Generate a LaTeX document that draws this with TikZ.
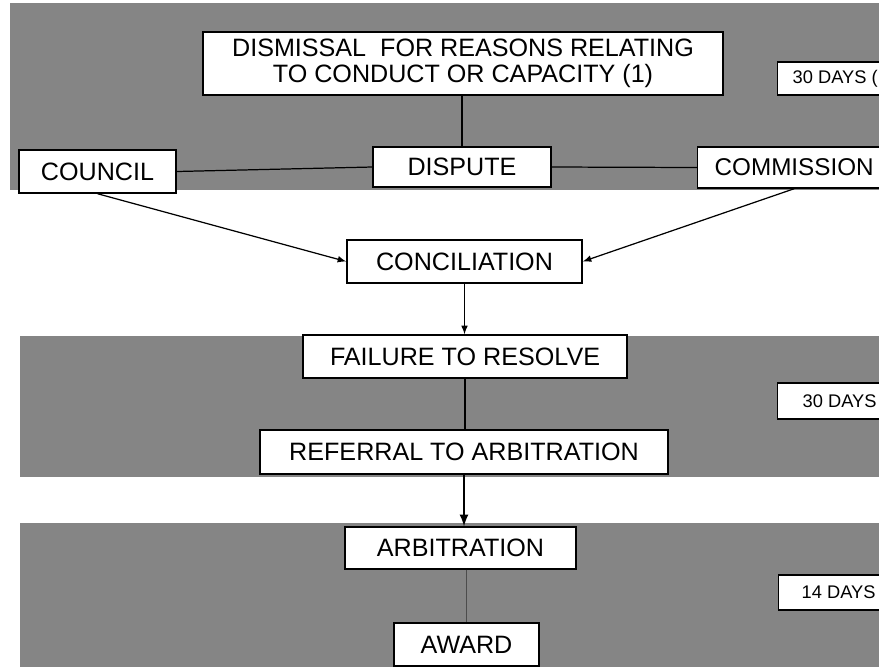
\documentclass[tikz,border=0pt]{standalone}
\usepackage{fontspec}
\setmainfont{Liberation Sans}
\usepackage{xcolor}
\usepackage{tikz}
\usetikzlibrary{calc}
\definecolor{band}{gray}{0.52}
\tikzset{every edge/.style={draw, line width=0.7pt}}
\tikzset{>=latex}
\tikzset{box/.style={draw, fill=white, line width=0.8pt, inner sep=0pt, font=\fontsize{14.3}{14.6}\selectfont}}
\tikzset{daybox/.style={draw, fill=white, line width=0.8pt, anchor=west, inner ysep=0pt, font=\fontsize{10.4}{12}\selectfont}}

\begin{document}
\begin{tikzpicture}[x=0.2mm, y=-0.2mm]     % 1 unit = 1 px
    \useasboundingbox (0,0) rectangle (879,667);
    \clip (0,0) rectangle (879,667);

    % grey bands
    \fill[band] (10,3) rectangle (879,190);
    \fill[band] (20,336) rectangle (879,477);
    \fill[band] (20,523) rectangle (879,667);

    \node[box, minimum width=104mm, minimum height=12.6mm, align=center] at (463, 63.5) (dismissal) {DISMISSAL\ \ FOR REASONS RELATING\\TO CONDUCT OR CAPACITY (1)};
    \node[daybox, inner xsep=3mm, minimum height=6.6mm] at (777, 78.5) (days1) {30 DAYS (};
    \node[box, minimum width=31.4mm, minimum height=8.6mm] at (97.5, 171.5) (council) {COUNCIL};
    \node[box, minimum width=35.6mm, minimum height=8mm] at (462, 167) (dispute) {DISPUTE};
    \node[box, anchor=west, inner xsep=3.4mm, minimum height=8.2mm, font=\fontsize{13.8}{14}\selectfont] at (697, 167.5) (commission) {COMMISSION};
    \node[box, minimum width=47mm, minimum height=8.6mm] at (464.5, 261.5) (conciliation) {CONCILIATION};

    \node[box, minimum width=64.8mm, minimum height=8.6mm] at (465, 356.5) (failure) {FAILURE TO RESOLVE};
    \node[box, minimum width=81.6mm, minimum height=8.8mm] at (464, 452) (referral) {REFERRAL TO ARBITRATION};
    \node[daybox, inner xsep=5mm, minimum height=7.2mm] at (777, 401) (days2) {30 DAYS};

    \node[box, minimum width=46.2mm, minimum height=8.4mm] at (460.5, 548) (arbitration) {ARBITRATION};
    \node[box, minimum width=29mm, minimum height=8.6mm] at (466.5, 644.5) (award) {AWARD};
    \node[daybox, inner xsep=4.6mm, minimum height=7mm] at (778, 592.5) (days3) {14 DAYS};

    \draw (dispute.north |- dismissal.south) edge (dispute.north);
    \draw (council.east) edge (dispute.west);
    \draw (dispute.east) edge (commission.west);
    \draw (council.south) edge[->] (conciliation.west);
    \draw (commission.south) edge[->] (conciliation.east);
    \draw (conciliation.south) edge[->] (conciliation.south |- failure.north);
    \draw (failure.south) edge (failure.south |- referral.north);
    \draw (referral.south) edge[->, line width=1.3pt] (referral.south |- arbitration.north);
    \draw (award.north |- arbitration.south) edge[black!70] (award.north);
\end{tikzpicture}
\end{document}
